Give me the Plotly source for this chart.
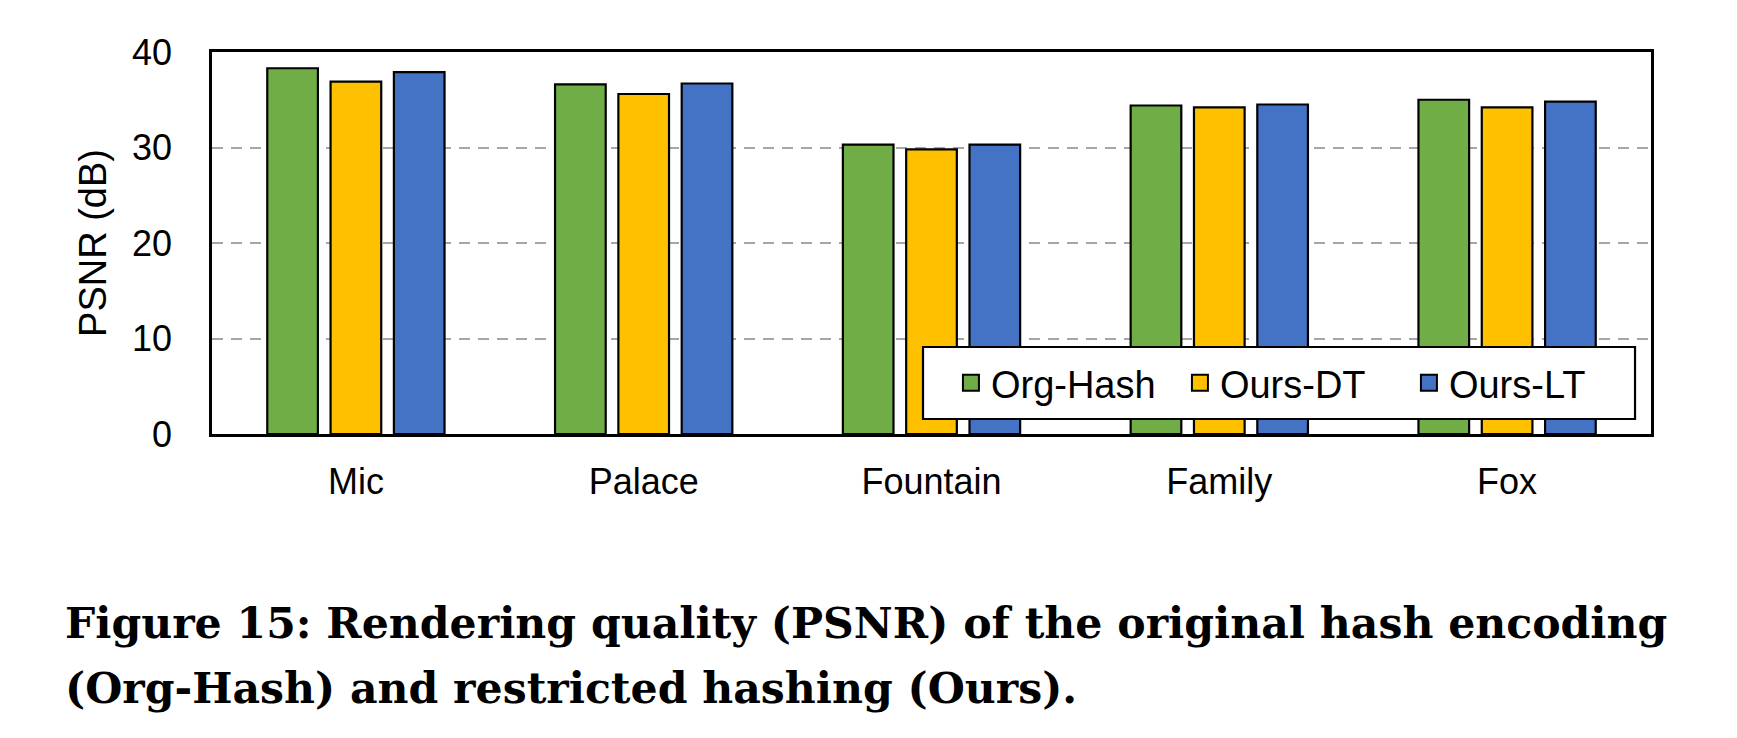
import plotly.graph_objects as go

# Данные
scenes = ['Mic', 'Palace', 'Fountain', 'Family', 'Fox']
org_hash = [38.3, 36.6, 30.3, 34.4, 35.0]
ours_dt = [36.9, 35.6, 29.8, 34.2, 34.2]
ours_lt = [37.9, 36.7, 30.3, 34.5, 34.8]

series = [
    ('Org-Hash', org_hash, '#70AD47'),
    ('Ours-DT', ours_dt, '#FFC000'),
    ('Ours-LT', ours_lt, '#4472C4'),
]

fig = go.Figure()
for name, vals, color in series:
    fig.add_trace(go.Bar(
        x=scenes, y=vals, name=name, showlegend=False,
        marker=dict(color=color, line=dict(color='black', width=2.2)),
    ))
    # маркер для легенды (крупнее, чем стандартный значок столбца)
    fig.add_trace(go.Scatter(
        x=[None], y=[None], mode='markers', name=name,
        marker=dict(symbol='square', size=16, color=color,
                    line=dict(color='black', width=2)),
    ))

axis_font = dict(family='Liberation Sans, Arial', size=36, color='black')

# страница добавляет отступ 8px, поэтому фигура на 8px меньше
fig.update_layout(
    width=1729, height=730,
    margin=dict(l=204, r=86, t=44, b=304),
    paper_bgcolor='white', plot_bgcolor='white',
    barmode='group', bargap=0.34, bargroupgap=0.2,
    font=axis_font,
    legend=dict(
        orientation='h', x=0.5135, y=0.1335, xanchor='left', yanchor='middle',
        bgcolor='rgba(0,0,0,0)', borderwidth=0,
        font=dict(family='Liberation Sans, Arial', size=38, color='black'),
        entrywidth=184, entrywidthmode='pixels',
    ),
    xaxis=dict(
        showline=True, linecolor='black', linewidth=2.5, mirror=True,
        ticks='', tickfont=axis_font, ticklabelstandoff=14,
    ),
    yaxis=dict(
        range=[0, 40], dtick=10,
        showline=True, linecolor='black', linewidth=2.5, mirror=True,
        showgrid=True, gridcolor='#A6A6A6', gridwidth=2.3, griddash='11px,8px',
        zeroline=False, ticks='', tickfont=axis_font, ticklabelstandoff=30,
        title=dict(text='PSNR (dB)', font=dict(family='Liberation Sans, Arial', size=38, color='black'),
                   standoff=14),
    ),
)

# рамка легенды
fig.add_shape(
    type='rect', xref='paper', yref='paper',
    x0=0.4941, x1=0.9889, y0=0.0393, y1=0.2277,
    fillcolor='white', line=dict(color='black', width=2.2), layer='above',
)

caption_font = dict(family='DejaVu Serif', size=42.6, color='black')
fig.add_annotation(
    text='<b>Figure 15: Rendering quality (PSNR) of the original hash encoding</b>',
    xref='paper', yref='paper', x=-0.1035, y=-0.4948,
    xanchor='left', yanchor='middle', showarrow=False, font=caption_font,
)
fig.add_annotation(
    text='<b>(Org-Hash) and restricted hashing (Ours).</b>',
    xref='paper', yref='paper', x=-0.1035, y=-0.665,
    xanchor='left', yanchor='middle', showarrow=False, font=caption_font,
)

fig.write_html('out.html')
